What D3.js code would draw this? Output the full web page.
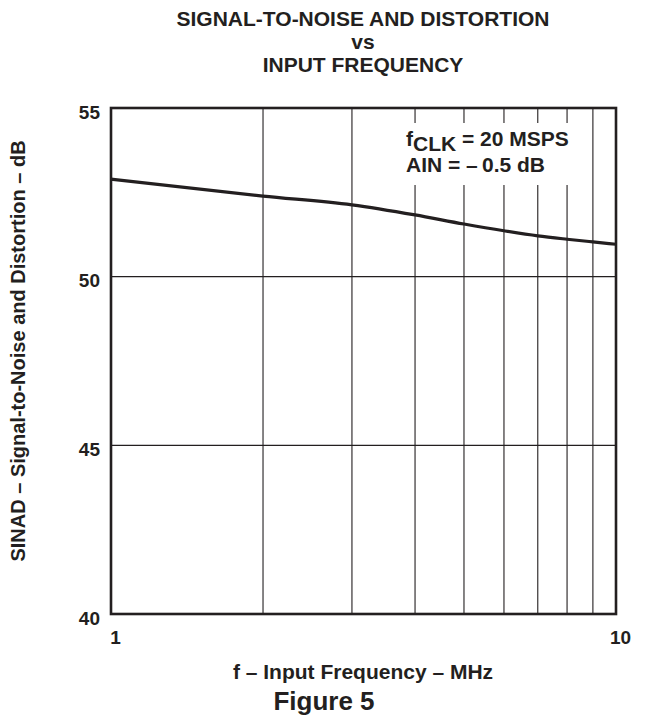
<!DOCTYPE html>
<html>
<head>
<meta charset="utf-8">
<script src="https://cdn.jsdelivr.net/npm/d3@7/dist/d3.min.js"></script>
<style>
  html, body { margin: 0; padding: 0; background: #fff; }
  svg { display: block; }
  text { font-family: "Liberation Sans", Arial, Helvetica, sans-serif; font-weight: bold; fill: #231f20; }
</style>
</head>
<body>
<svg id="chart" width="645" height="721"></svg>
<script>
// ---- data ----
const freqMHz = [1, 2, 3, 4, 5, 6, 7, 8, 9, 10];
const sinadDB = [52.89, 52.39, 52.13, 51.83, 51.56, 51.36, 51.21, 51.11, 51.03, 50.96];
const xTickLabels = [1, 10];
const yTickLabels = [40, 45, 50, 55];
const xGrid = [2, 3, 4, 5, 6, 7, 8, 9];
const titleLines = ["SIGNAL-TO-NOISE AND DISTORTION", "vs", "INPUT FREQUENCY"];

const svg = d3.select("#chart");
const m = { left: 111, right: 616, top: 108, bottom: 614 };
const ink = "#231f20";

const x = d3.scaleLog().domain([1, 10]).range([m.left, m.right]);
const y = d3.scaleLinear().domain([40, 55]).range([m.bottom, m.top]);

// gridlines
svg.append("g").selectAll("line").data(xGrid).join("line")
  .attr("x1", d => x(d)).attr("x2", d => x(d))
  .attr("y1", m.top).attr("y2", m.bottom)
  .attr("stroke", ink).attr("stroke-width", 1.1);
svg.append("g").selectAll("line").data(yTickLabels.slice(1, -1)).join("line")
  .attr("x1", m.left).attr("x2", m.right)
  .attr("y1", d => y(d)).attr("y2", d => y(d))
  .attr("stroke", ink).attr("stroke-width", 1.1);

// annotation background
svg.append("rect").attr("x", 403).attr("y", 123).attr("width", 183).attr("height", 62).attr("fill", "#fff");

// curve
const line = d3.line().x((d, i) => x(freqMHz[i])).y(d => y(d)).curve(d3.curveMonotoneX);
svg.append("path").datum(sinadDB).attr("d", line)
  .attr("fill", "none").attr("stroke", ink).attr("stroke-width", 3.2);

// frame
svg.append("rect").attr("x", m.left).attr("y", m.top)
  .attr("width", m.right - m.left).attr("height", m.bottom - m.top)
  .attr("fill", "none").attr("stroke", ink).attr("stroke-width", 2.6);

// axes (labels only)
const xAxis = d3.axisBottom(x).tickValues(xTickLabels).tickSize(0).tickFormat(d3.format("d"));
const gx = svg.append("g").attr("transform", `translate(4,${m.bottom + 13})`).call(xAxis);
gx.select(".domain").remove();
gx.selectAll("text").style("font-size", "19px").attr("fill", ink).attr("font-family", null);

const yAxis = d3.axisLeft(y).tickValues(yTickLabels).tickSize(0).tickFormat(d3.format("d"));
const gy = svg.append("g").attr("transform", `translate(${m.left - 8},4)`).call(yAxis);
gy.select(".domain").remove();
gy.selectAll("text").style("font-size", "19px").attr("fill", ink).attr("font-family", null);

// title
svg.append("g").selectAll("text").data(titleLines).join("text")
  .attr("x", 363).attr("y", (d, i) => 26 + i * 23)
  .attr("text-anchor", "middle").style("font-size", "21px").text(d => d);

// annotation
const a1 = svg.append("text").attr("x", 406).attr("y", 146).style("font-size", "21px");
a1.append("tspan").text("f");
a1.append("tspan").attr("dy", 5).text("CLK");
a1.append("tspan").attr("dy", -5).text(" = 20 MSPS");
svg.append("text").attr("x", 406).attr("y", 172).style("font-size", "21px").text("AIN = \u2013\u20090.5 dB");

// axis titles
svg.append("text").attr("x", 363).attr("y", 679).attr("text-anchor", "middle")
  .style("font-size", "21px").text("f \u2013 Input Frequency \u2013 MHz");
svg.append("text").attr("transform", "translate(25,351) rotate(-90)").attr("text-anchor", "middle")
  .style("font-size", "20px").text("SINAD \u2013 Signal-to-Noise and Distortion \u2013 dB");

svg.append("text").attr("x", 324).attr("y", 710).attr("text-anchor", "middle")
  .style("font-size", "26px").text("Figure 5");
</script>
</body>
</html>
